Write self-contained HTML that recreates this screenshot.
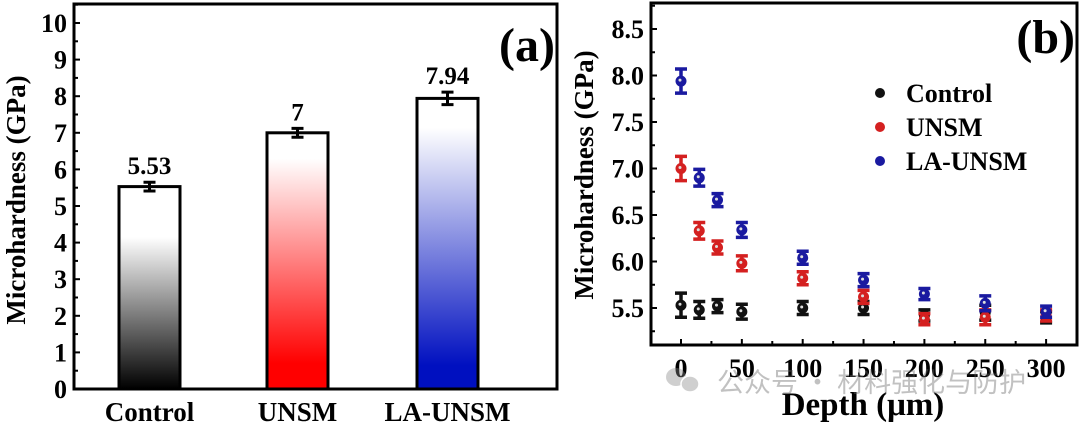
<!DOCTYPE html>
<html><head><meta charset="utf-8"><style>
html,body{margin:0;padding:0;background:#fff;}
svg{display:block;font-family:"Liberation Serif","Noto Serif CJK SC",serif;font-weight:bold;}
</style></head><body>
<svg id="c" width="1080" height="423" viewBox="0 0 1080 423" xmlns="http://www.w3.org/2000/svg">
<defs>
<linearGradient id="gK" x1="0" y1="1" x2="0" y2="0"><stop offset="0" stop-color="#000"/><stop offset="0.75" stop-color="#fff"/></linearGradient>
<linearGradient id="gR" x1="0" y1="1" x2="0" y2="0"><stop offset="0.1" stop-color="#f00"/><stop offset="0.9" stop-color="#fff"/></linearGradient>
<linearGradient id="gB" x1="0" y1="1" x2="0" y2="0"><stop offset="0.08" stop-color="#0010c0"/><stop offset="0.9" stop-color="#fff"/></linearGradient>
</defs>
</svg>
<script>
const barCats=["Control","UNSM","LA-UNSM"];
const barVals=[5.53,7,7.94];
const barErr=[0.12,0.12,0.17];
const barLabels=["5.53","7","7.94"];
const yTicksA=[0,1,2,3,4,5,6,7,8,9,10];
const depths=[0,15,30,50,100,150,200,250,300];
const ctrlVals=[5.53,5.48,5.52,5.46,5.5,5.5,5.42,5.45,5.4];
const unsmVals=[7.0,6.33,6.15,5.98,5.82,5.62,5.38,5.4,5.42];
const laVals=[7.94,6.9,6.66,6.34,6.04,5.8,5.65,5.55,5.46];
const errB=[0.13,0.09,0.07,0.08,0.07,0.07,0.06,0.08,0.06];
const yTicksB=[5.5,6.0,6.5,7.0,7.5,8.0,8.5];
const xTicksB=[0,50,100,150,200,250,300];
const NS="http://www.w3.org/2000/svg";
const svg=document.getElementById('c');
function el(t,a,txt){const e=document.createElementNS(NS,t);for(const k in a)e.setAttribute(k,a[k]);if(txt!==undefined)e.textContent=txt;svg.appendChild(e);return e;}
// Panel A
const yA=v=>389-v*36.6;
const barX=[119,267,417],barW=61,fills=["url(#gK)","url(#gR)","url(#gB)"];
barVals.forEach((v,i)=>{
 const r=el('rect',{x:barX[i],y:yA(v),width:barW,height:389-yA(v),fill:fills[i],stroke:'#000','stroke-width':3});
 
 
 const cx=barX[i]+barW/2,t=yA(v+barErr[i]),b=yA(v-barErr[i]);
 const p=el('path',{d:`M${cx-6},${t}H${cx+6}M${cx},${t}V${b}M${cx-6},${b}H${cx+6}`,stroke:'#000','stroke-width':3,fill:'none'});
 
 
 const l=el('text',{x:cx,y:yA(v+barErr[i])-8,'text-anchor':'middle','font-size':25},barLabels[i]);
 
 
 const c=el('text',{x:cx,y:421,'text-anchor':'middle','font-size':27},barCats[i]);
 
 
});
const fA=el('rect',{x:74,y:4,width:483,height:385,fill:'none',stroke:'#000','stroke-width':3});


yTicksA.forEach(v=>{
 el('line',{x1:74,x2:80,y1:yA(v),y2:yA(v),stroke:'#000','stroke-width':2});
 el('line',{x1:74,x2:78,y1:yA(v+0.5),y2:yA(v+0.5),stroke:'#000','stroke-width':2});
 const t=el('text',{x:67,y:yA(v)+9,'text-anchor':'end','font-size':26},String(v));
 
 
});
const ya=el('text',{transform:'translate(25,200) rotate(-90)','text-anchor':'middle','font-size':27},'Microhardness (GPa)');


const pa=el('text',{x:555,y:61,'text-anchor':'end','font-size':48},'(a)');


// Panel B
const xB=d=>681+d*1.217, yB=v=>308-(v-5.5)*93;
const series=[[ctrlVals,'#111','control'],[unsmVals,'#d42020','unsm'],[laVals,'#1a1aa0','la-unsm']];
series.forEach(([vals,col,nm])=>{
 vals.forEach((v,i)=>{
  const cx=xB(depths[i]),t=yB(v+errB[i]),b=yB(v-errB[i]);
  const p=el('path',{d:`M${cx-6},${t}H${cx+6}M${cx},${t}V${b}M${cx-6},${b}H${cx+6}`,stroke:col,'stroke-width':3.5,fill:'none'});
  
  
  const c=el('circle',{cx:cx,cy:yB(v),r:5,fill:col,stroke:col,'stroke-width':1});
  
  
  el('circle',{cx:cx-1,cy:yB(v)-1,r:1.5,fill:'#ddd'});
 });
});
const fB=el('rect',{x:651,y:3,width:426,height:342,fill:'none',stroke:'#000','stroke-width':3});


yTicksB.forEach(v=>{
 el('line',{x1:651,x2:657,y1:yB(v),y2:yB(v),stroke:'#000','stroke-width':2});
 el('line',{x1:651,x2:655,y1:yB(v-0.25),y2:yB(v-0.25),stroke:'#000','stroke-width':2});
 const t=el('text',{x:644,y:yB(v)+9,'text-anchor':'end','font-size':26},v.toFixed(1));
 
 
});
el('line',{x1:651,x2:655,y1:yB(8.75),y2:yB(8.75),stroke:'#000','stroke-width':2});
xTicksB.forEach(d=>{
 el('line',{x1:xB(d),x2:xB(d),y1:345,y2:339,stroke:'#000','stroke-width':2});
 if(d<300)el('line',{x1:xB(d+25),x2:xB(d+25),y1:345,y2:341,stroke:'#000','stroke-width':2});
 const t=el('text',{x:xB(d),y:377,'text-anchor':'middle','font-size':26},String(d));
 
 
});
const yb=el('text',{transform:'translate(593,175) rotate(-90)','text-anchor':'middle','font-size':27},'Microhardness (GPa)');


const xb=el('text',{x:863,y:415,'text-anchor':'middle','font-size':33},'Depth (μm)');


const pb=el('text',{x:1075,y:53,'text-anchor':'end','font-size':48},'(b)');


const legNames=['Control','UNSM','LA-UNSM'];
series.forEach(([v,col,nm],i)=>{
 const y=93+i*34;
 const c=el('circle',{cx:880,cy:y,r:5,fill:col});
 
 
 const t=el('text',{x:906,y:y+9,'font-size':26},legNames[i]);
 
 
});
// watermark
const wm=el('g',{opacity:0.4});


wm.innerHTML='<ellipse cx="676" cy="377" rx="10" ry="9" fill="#888"/><ellipse cx="690" cy="384" rx="9" ry="8" fill="#888" stroke="#fff" stroke-width="1.5"/><text x="717" y="392" font-size="27" font-weight="normal" fill="#666" font-family="Noto Sans CJK SC, sans-serif">公众号 · 材料强化与防护</text>';
svg.appendChild(wm);
</script>
</body></html>
